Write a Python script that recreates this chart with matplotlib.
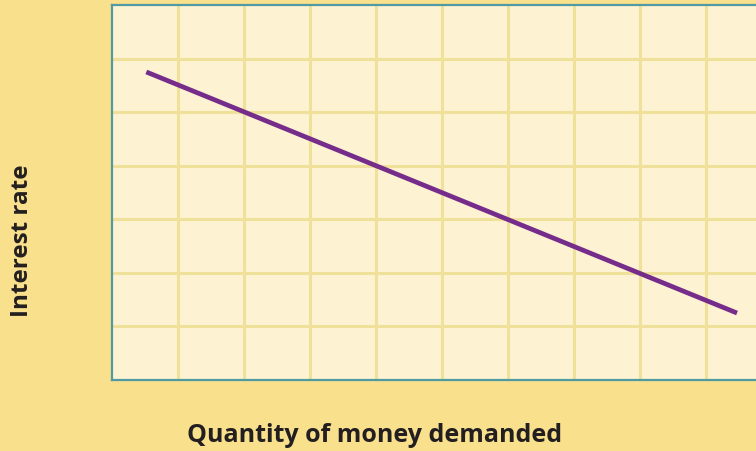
import numpy as np
import matplotlib.pyplot as plt

# demand curve endpoints, in grid-cell units
quantity = [0.52, 9.47]
rate = [5.75, 1.25]

x_label = 'Quantity of money demanded'
y_label = 'Interest rate'

W, H = 756, 451
fig = plt.figure(figsize=(W / 100, H / 100), dpi=100)
fig.patch.set_facecolor('#f8e08c')

# axes: left 112px, top 5px, bottom 380px, 66px per column, 53.6px per row
left, top, bottom = 112, 5, 380
ncols = 10
right = left + 66 * ncols
ax = fig.add_axes([left / W, 1 - bottom / H, (right - left) / W, (bottom - top) / H])
ax.set_facecolor('#fdf3d2')
ax.set_xlim(0, ncols)
ax.set_ylim(0, 7)
ax.set_xticks(np.arange(1, ncols))
ax.set_yticks(np.arange(1, 7))
ax.grid(True, color='#efe09a', linewidth=2.2)
ax.tick_params(length=0, labelbottom=False, labelleft=False)
for s in ax.spines.values():
    s.set_color('#4f9aa3')
    s.set_linewidth(1.6)

ax.plot(quantity, rate, color='#762c8a', linewidth=3.4, solid_capstyle='butt')

fig.text(375 / W, 1 - 436 / H, x_label, ha='center', va='center',
         fontsize=18, fontweight='bold', family='Open Sans', color='#231f20')
fig.text(22 / W, 1 - 241 / H, y_label, ha='center', va='center', rotation=90,
         fontsize=17.5, fontweight='bold', family='Open Sans', color='#231f20')

fig.savefig('out.png', dpi=100, facecolor=fig.get_facecolor())
